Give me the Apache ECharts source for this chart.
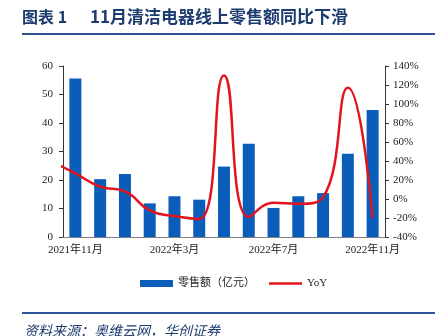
<!DOCTYPE html>
<html>
<head>
<meta charset="utf-8">
<script src="https://cdn.jsdelivr.net/npm/echarts@6/dist/echarts.min.js"></script>
<style>
  html, body { margin: 0; padding: 0; background: #fff; }
  #chart { width: 440px; height: 336px; }
</style>
</head>
<body>
<div id="chart"></div>
<script>
// Monthly online retail sales of cleaning appliances and year-on-year change
const months = ['2021年11月', '2021年12月', '2022年1月', '2022年2月', '2022年3月', '2022年4月',
  '2022年5月', '2022年6月', '2022年7月', '2022年8月', '2022年9月', '2022年10月', '2022年11月'];
const sales = [55.6, 20.3, 22.1, 11.8, 14.3, 13.1, 24.7, 32.7, 10.2, 14.3, 15.4, 29.2, 44.6]; // 亿元
const yoy = [27, 13, 8, -12, -18, -21, 130, -19, -4, -5, 2, 117, -20]; // %
const yoyLeadIn = 40; // 2021年10月, runs in from the left edge of the plot
const leftTicks = { min: 0, max: 60, step: 10 };
const rightTicks = { min: -40, max: 140, step: 20 };

const serif = '"Liberation Serif", "Noto Sans CJK SC", serif';
const navy = '#1C3B6E';
const rule = '#2F5496';
const red = '#E3141E';

const yoyPoints = [[-1, yoyLeadIn]].concat(yoy.map((v, i) => [i, v]));

const chart = echarts.init(document.getElementById('chart'), null, { renderer: 'canvas' });
chart.setOption({
  animation: false,
  backgroundColor: '#fff',
  textStyle: { fontFamily: serif },
  grid: { left: 63, right: 55, top: 66, bottom: 99 },
  legend: {
    left: 135, top: 273,
    itemWidth: 33, itemHeight: 7, itemGap: 14,
    symbolKeepAspect: true,
    textStyle: { fontSize: 11, color: '#222', fontFamily: serif },
    data: [
      { name: '零售额（亿元）', icon: 'rect' },
      { name: 'YoY', icon: 'path://M0,0H33V2.5H0Z', itemStyle: { color: red } }
    ]
  },
  xAxis: [{
    type: 'category',
    data: months,
    axisLine: { lineStyle: { color: '#7f7f7f', width: 1 } },
    axisTick: { interval: 3, length: 3, lineStyle: { color: '#7f7f7f' } },
    axisLabel: {
      interval: 3, margin: 8, fontSize: 11, color: '#222',
      fontFamily: serif
    }
  }, {
    type: 'value', min: -0.5, max: 12.5, show: false
  }],
  yAxis: [{
    type: 'value',
    min: leftTicks.min, max: leftTicks.max, interval: leftTicks.step,
    axisLine: { show: true, onZero: false, lineStyle: { color: '#333' } },
    axisTick: { show: true, length: 4, lineStyle: { color: '#333' } },
    axisLabel: { margin: 10, fontSize: 11, color: '#222', fontFamily: serif },
    splitLine: { show: false }
  }, {
    type: 'value',
    min: rightTicks.min, max: rightTicks.max, interval: rightTicks.step,
    position: 'right',
    axisLine: { show: true, onZero: false, lineStyle: { color: '#333' } },
    axisTick: { show: true, length: 4, lineStyle: { color: '#333' } },
    axisLabel: { margin: 8, fontSize: 11, color: '#222', fontFamily: serif, formatter: '{value}%' },
    splitLine: { show: false }
  }],
  series: [{
    name: '零售额（亿元）',
    type: 'bar',
    data: sales,
    barWidth: 12,
    itemStyle: { color: '#0A5DB8' }
  }, {
    name: 'YoY',
    type: 'line',
    xAxisIndex: 1,
    yAxisIndex: 1,
    data: yoyPoints,
    smooth: 0.5,
    symbol: 'none',
    clip: true,
    lineStyle: { color: red, width: 2.5 },
    itemStyle: { color: red }
  }],
  graphic: [
    { type: 'text', left: 22, top: 9,
      style: { text: '图表 1', font: 'bold 16px "Noto Sans CJK SC"', fill: navy } },
    { type: 'text', left: 90, top: 8,
      style: { text: '11月清洁电器线上零售额同比下滑', font: 'bold 17px "Noto Sans CJK SC"', fill: navy } },
    { type: 'line', shape: { x1: 22, y1: 34, x2: 435, y2: 34 }, style: { stroke: rule, lineWidth: 2 } },
    { type: 'line', shape: { x1: 22, y1: 313, x2: 435, y2: 313 }, style: { stroke: rule, lineWidth: 2 } },
    { type: 'text', left: 24, top: 324,
      style: { text: '资料来源：奥维云网，华创证券', font: 'italic 14px "Noto Sans CJK SC"', fill: navy } }
  ]
});
</script>
</body>
</html>
